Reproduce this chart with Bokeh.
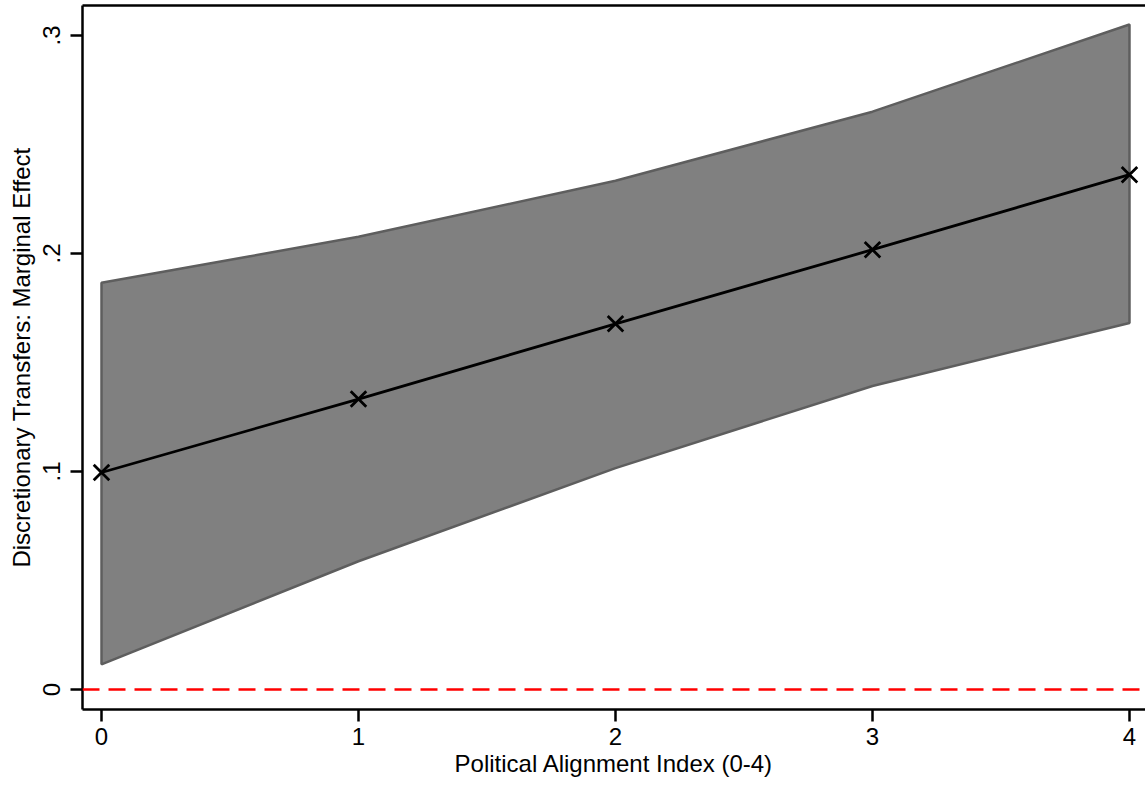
from bokeh.plotting import figure
from bokeh.models import Span, Range1d, LinearAxis, FixedTicker, ColumnDataSource
from bokeh.embed import file_html
from bokeh.resources import INLINE

# Data
alignment = [0, 1, 2, 3, 4]
marginal_effect = [0.0995, 0.1332, 0.1677, 0.2017, 0.2361]
ci_upper = [0.1865, 0.2076, 0.2333, 0.2650, 0.3050]
ci_lower = [0.0115, 0.0588, 0.1015, 0.1392, 0.1681]
x_ticks = [0, 1, 2, 3, 4]
y_ticks = [0, 0.1, 0.2, 0.3]
y_tick_labels = {0: "0", 0.1: ".1", 0.2: ".2", 0.3: ".3"}

FONT = "Liberation Sans"
FS = "24px"

p = figure(width=1145, height=789, output_backend="svg", toolbar_location=None,
           x_range=Range1d(-0.0739, 4.0623), y_range=Range1d(-0.0092, 0.3137),
           min_border_left=82, min_border_right=0, min_border_top=5, min_border_bottom=80)
p.outline_line_color = None
p.xgrid.visible = False
p.ygrid.visible = False
p.background_fill_color = "white"
p.border_fill_color = "white"

# Confidence band
band_x = alignment + alignment[::-1]
band_y = ci_upper + ci_lower[::-1]
p.patch(band_x, band_y, fill_color="#808080", fill_alpha=1.0,
        line_color="#5e5e5e", line_width=2.5)

# Zero reference line
p.add_layout(Span(location=0, dimension="width", line_color="#ff0000",
                  line_width=2.5, line_dash="17 9"))

# Point estimates
src = ColumnDataSource(dict(x=alignment, y=marginal_effect))
p.line("x", "y", source=src, line_color="black", line_width=2.8)
p.scatter("x", "y", source=src, marker="x", size=22, line_color="black", line_width=2.8)

# Axes
xa = p.xaxis[0]
xa.ticker = FixedTicker(ticks=x_ticks)
xa.minor_tick_line_color = None
xa.major_tick_in = 0
xa.major_tick_out = 12
xa.axis_line_width = 2.5
xa.major_tick_line_width = 2.5
xa.major_label_text_font = FONT
xa.major_label_text_font_size = FS
xa.major_label_text_color = "black"
xa.major_label_standoff = 6
xa.axis_label = "Political Alignment Index (0-4)"
xa.axis_label_text_font = FONT
xa.axis_label_text_font_size = FS
xa.axis_label_text_color = "black"
xa.axis_label_text_font_style = "normal"
xa.axis_label_standoff = 2

ya = p.yaxis[0]
ya.ticker = FixedTicker(ticks=y_ticks)
ya.major_label_overrides = y_tick_labels
ya.minor_tick_line_color = None
ya.major_tick_in = 0
ya.major_tick_out = 12
ya.axis_line_width = 2.5
ya.major_tick_line_width = 2.5
ya.major_label_orientation = "vertical"
ya.major_label_text_font = FONT
ya.major_label_text_font_size = FS
ya.major_label_text_color = "black"
ya.major_label_standoff = 10
ya.axis_label = "Discretionary Transfers: Marginal Effect"
ya.axis_label_text_font = FONT
ya.axis_label_text_font_size = FS
ya.axis_label_text_color = "black"
ya.axis_label_text_font_style = "normal"
ya.axis_label_standoff = 6

# Top border line
top = LinearAxis(ticker=FixedTicker(ticks=[]), major_tick_out=0, major_tick_in=0,
                 minor_tick_out=0, minor_tick_in=0, major_label_text_font_size="0px",
                 axis_line_width=2.5, axis_line_color="black")
p.add_layout(top, "above")

open("out.html", "w").write(file_html(p, INLINE))
